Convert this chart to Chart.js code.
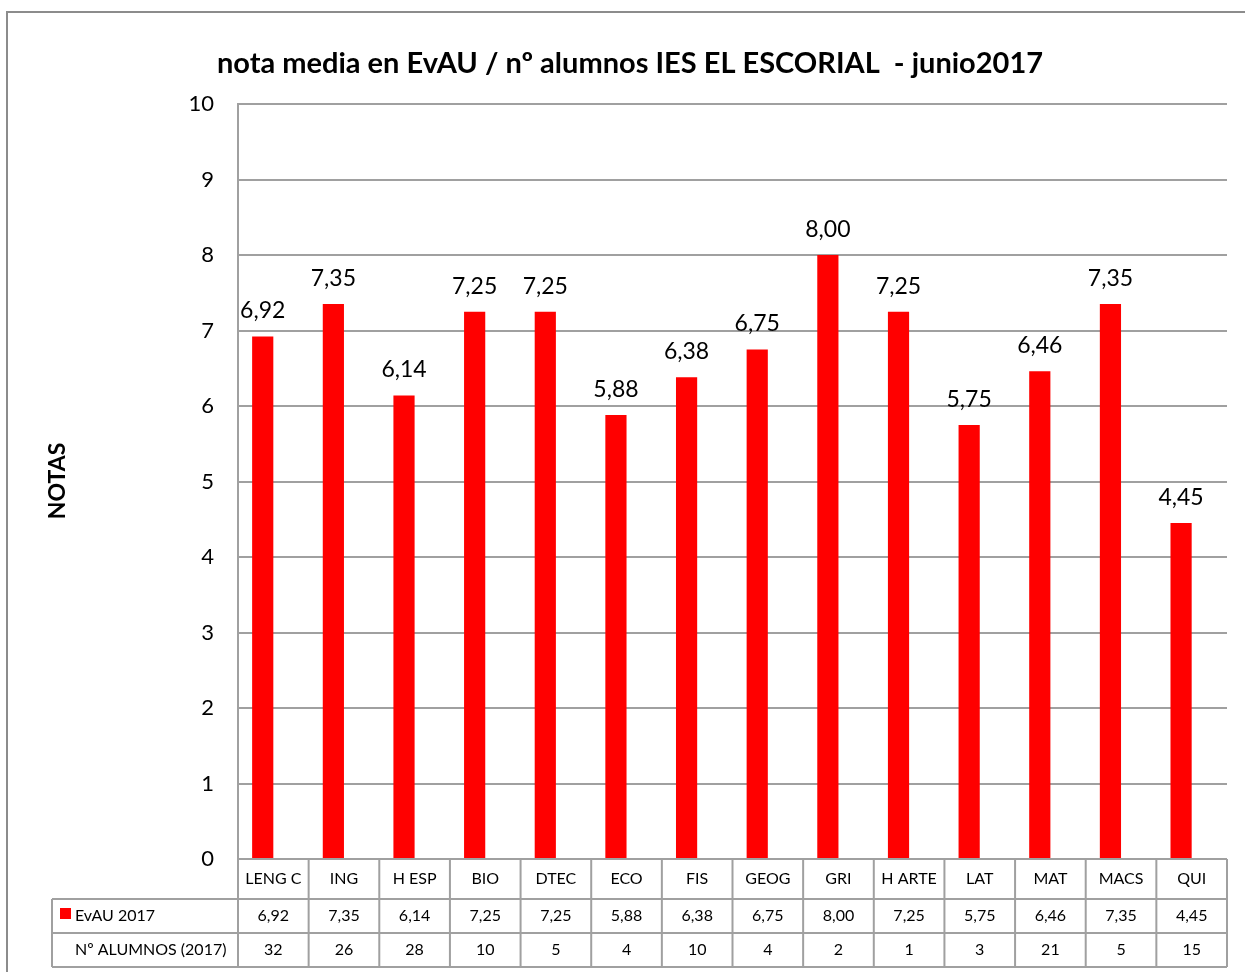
<!DOCTYPE html>
<html>
<head>
<meta charset="utf-8">
<script src="https://cdn.jsdelivr.net/npm/chart.js@4.4.1/dist/chart.umd.min.js"></script>
<style>
  html, body { margin: 0; padding: 0; background: #fff; }
  #wrap { width: 1245px; height: 972px; position: relative; }
</style>
</head>
<body>
<div id="wrap"><canvas id="grafico" width="1245" height="972"></canvas></div>
<script>
// datos
const asignaturas = ['LENG C', 'ING', 'H ESP', 'BIO', 'DTEC', 'ECO', 'FIS', 'GEOG', 'GRI', 'H ARTE', 'LAT', 'MAT', 'MACS', 'QUI'];
const notasEvau = [6.92, 7.35, 6.14, 7.25, 7.25, 5.88, 6.38, 6.75, 8.00, 7.25, 5.75, 6.46, 7.35, 4.45];
const numAlumnos = [32, 26, 28, 10, 5, 4, 10, 4, 2, 1, 3, 21, 5, 15];
const ticksY = [0, 1, 2, 3, 4, 5, 6, 7, 8, 9, 10];

const FUENTE = 'Lato, "Open Sans", sans-serif';
const GRIS = '#a0a0a0';
const fmt = v => v.toFixed(2).replace('.', ',');

// plugin para titulo, marco, etiquetas y tabla de datos
const extras = {
    id: 'extras',
    afterDraw(chart) {
        const ctx = chart.ctx;
        const area = chart.chartArea;
        const x = chart.scales.x;
        const n = asignaturas.length;
        const anchoCat = (area.right - area.left) / n;
        ctx.save();

        // marco exterior
        ctx.strokeStyle = '#8c8c8c';
        ctx.lineWidth = 2;
        ctx.beginPath();
        ctx.moveTo(7, 972);
        ctx.lineTo(7, 12);
        ctx.lineTo(1245, 12);
        ctx.stroke();

        // titulo
        ctx.fillStyle = '#000';
        ctx.font = 'bold 29px ' + FUENTE;
        ctx.textAlign = 'center';
        ctx.textBaseline = 'middle';
        ctx.fillText('nota media en EvAU / nº alumnos IES EL ESCORIAL  - junio2017', 630, 64);

        // titulo eje Y
        ctx.save();
        ctx.translate(58, 481);
        ctx.rotate(-Math.PI / 2);
        ctx.font = 'bold 23px ' + FUENTE;
        ctx.fillText('NOTAS', 0, 0);
        ctx.restore();

        // etiquetas sobre las barras (solo la serie EvAU)
        const meta = chart.getDatasetMeta(0);
        ctx.font = '23px ' + FUENTE;
        ctx.textBaseline = 'bottom';
        meta.data.forEach((bar, i) => {
            ctx.fillText(fmt(notasEvau[i]), bar.x, bar.y - 14);
        });

        // tabla de datos
        const y0 = area.bottom, y1 = y0 + 40, y2 = y1 + 34, y3 = y2 + 34;
        const izq = 52;
        ctx.strokeStyle = GRIS;
        ctx.lineWidth = 2;
        ctx.beginPath();
        for (let i = 0; i <= n; i++) {
            const xl = area.left + i * anchoCat;
            ctx.moveTo(xl, y0);
            ctx.lineTo(xl, y3);
        }
        ctx.moveTo(izq, y1); ctx.lineTo(area.right, y1);
        ctx.moveTo(izq, y2); ctx.lineTo(area.right, y2);
        ctx.moveTo(izq, y3); ctx.lineTo(area.right, y3);
        ctx.moveTo(izq, y1); ctx.lineTo(izq, y3);
        ctx.stroke();

        ctx.fillStyle = '#000';
        ctx.font = '16px ' + FUENTE;
        ctx.textAlign = 'center';
        ctx.textBaseline = 'middle';
        asignaturas.forEach((a, i) => {
            const xc = x.getPixelForValue(i);
            ctx.fillText(a, xc, (y0 + y1) / 2);
            ctx.fillText(fmt(notasEvau[i]), xc, (y1 + y2) / 2);
            ctx.fillText(String(numAlumnos[i]), xc, (y2 + y3) / 2);
        });

        // leyenda
        ctx.fillStyle = '#ff0000';
        ctx.fillRect(60, 908, 11, 11);
        ctx.fillStyle = '#000';
        ctx.textAlign = 'left';
        ctx.fillText('EvAU 2017', 75, (y1 + y2) / 2);
        ctx.fillText('Nº ALUMNOS (2017)', 75, (y2 + y3) / 2);
        ctx.restore();
    }
};

new Chart(document.getElementById('grafico'), {
    type: 'bar',
    data: {
        labels: asignaturas,
        datasets: [{
            label: 'EvAU 2017',
            data: notasEvau,
            backgroundColor: '#ff0000',
            borderWidth: 0,
            categoryPercentage: 0.6,
            barPercentage: 1
        }, {
            // serie de alumnos: solo aparece en la tabla, barras sin relleno
            label: 'Nº ALUMNOS (2017)',
            data: numAlumnos,
            yAxisID: 'y2',
            backgroundColor: 'rgba(0,0,0,0)',
            borderWidth: 0,
            categoryPercentage: 0.6,
            barPercentage: 1
        }]
    },
    options: {
        responsive: false,
        animation: false,
        events: [],
        layout: { padding: { top: 104, bottom: 113, left: 0, right: 18 } },
        plugins: {
            legend: { display: false },
            title: { display: false },
            tooltip: { enabled: false }
        },
        scales: {
            x: { display: false },
            y: {
                min: 0,
                max: 10,
                afterFit(scale) { scale.width = 238; },
                afterBuildTicks(scale) { scale.ticks = ticksY.map(v => ({ value: v })); },
                ticks: {
                    color: '#000',
                    font: { family: FUENTE, size: 22 },
                    padding: 24
                },
                grid: { color: GRIS, lineWidth: 2, drawTicks: false },
                border: { color: GRIS, width: 2 }
            },
            y2: { display: false, min: 0, max: 40 }
        }
    },
    plugins: [extras]
});
</script>
</body>
</html>
